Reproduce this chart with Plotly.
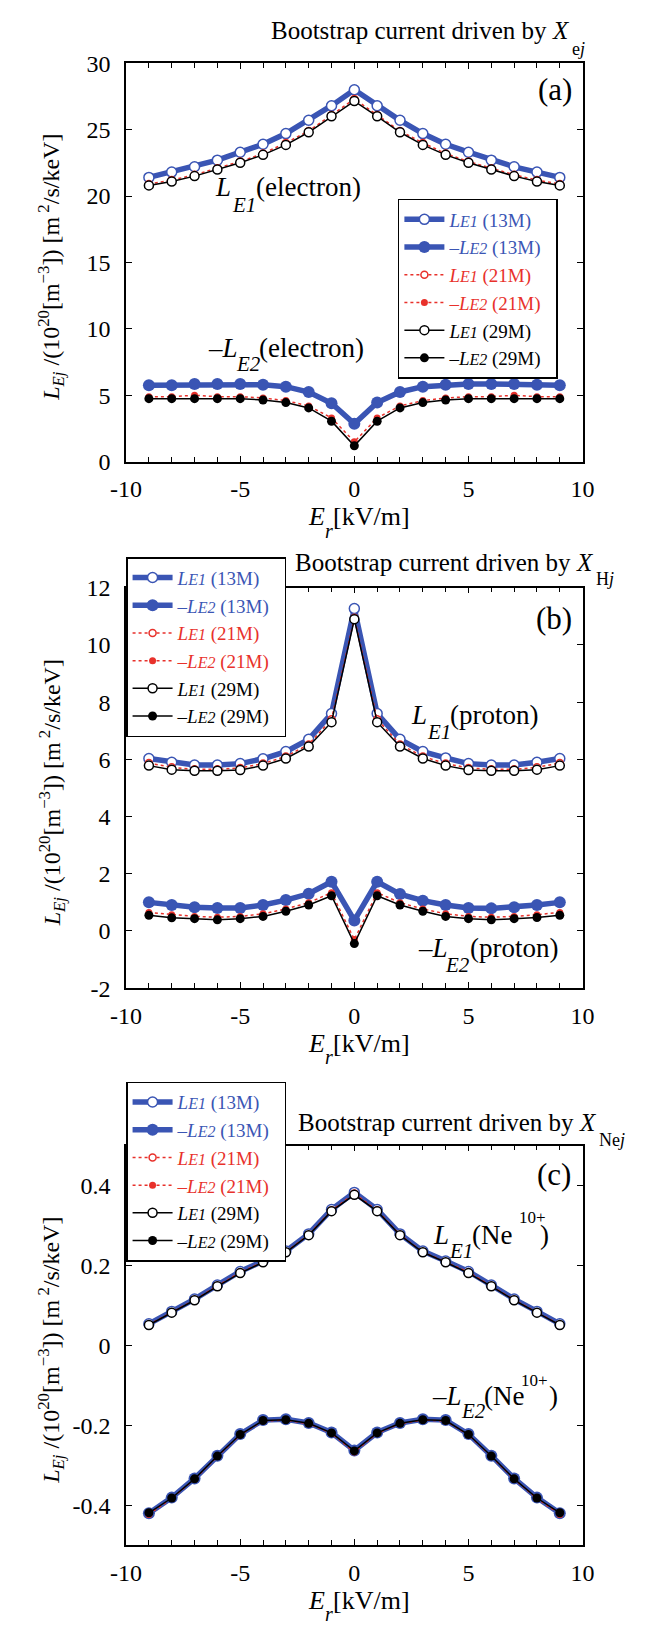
import plotly.graph_objects as go

W, H = 653, 1630
FONT = "Liberation Serif, Times New Roman, Tinos, DejaVu Serif, serif"
BLUE = "#3a55b4"
RED = "#e8312b"
BLACK = "#000000"

# ---------------- data ----------------
er = [-9, -8, -7, -6, -5, -4, -3, -2, -1, 0, 1, 2, 3, 4, 5, 6, 7, 8, 9]

# panel (a): electron
a_LE1_13M = [21.4, 21.8, 22.2, 22.7, 23.3, 23.9, 24.7, 25.7, 26.8, 28.0, 26.8, 25.7, 24.7, 23.9, 23.3, 22.7, 22.2, 21.8, 21.4]
a_LE1_21M = [20.9, 21.2, 21.6, 22.1, 22.6, 23.2, 24.0, 24.9, 26.1, 27.3, 26.1, 24.9, 24.0, 23.2, 22.6, 22.1, 21.6, 21.2, 20.9]
a_LE1_29M = [20.8, 21.1, 21.5, 22.0, 22.5, 23.1, 23.85, 24.8, 26.0, 27.15, 26.0, 24.8, 23.85, 23.1, 22.5, 22.0, 21.5, 21.1, 20.8]
a_mLE2_13M = [5.75, 5.75, 5.85, 5.85, 5.85, 5.8, 5.65, 5.25, 4.4, 2.85, 4.45, 5.25, 5.65, 5.8, 5.85, 5.85, 5.85, 5.8, 5.75]
a_mLE2_21M = [4.9, 4.9, 5.0, 4.9, 4.9, 4.8, 4.6, 4.2, 3.3, 1.5, 3.3, 4.2, 4.6, 4.8, 4.9, 4.9, 5.0, 4.9, 4.9]
a_mLE2_29M = [4.75, 4.75, 4.75, 4.75, 4.75, 4.65, 4.45, 4.05, 3.05, 1.2, 3.05, 4.05, 4.45, 4.65, 4.75, 4.75, 4.75, 4.75, 4.75]

# panel (b): proton
b_LE1_13M = [6.03, 5.9, 5.8, 5.8, 5.85, 6.02, 6.27, 6.7, 7.6, 11.27, 7.6, 6.7, 6.27, 6.05, 5.85, 5.8, 5.8, 5.9, 6.03]
b_LE1_21M = [5.87, 5.72, 5.65, 5.65, 5.7, 5.85, 6.1, 6.52, 7.4, 10.95, 7.4, 6.52, 6.1, 5.85, 5.7, 5.65, 5.65, 5.72, 5.87]
b_LE1_29M = [5.78, 5.64, 5.6, 5.6, 5.63, 5.78, 6.03, 6.45, 7.3, 10.9, 7.3, 6.45, 6.03, 5.78, 5.63, 5.6, 5.6, 5.64, 5.78]
b_mLE2_13M = [1.0, 0.91, 0.83, 0.8, 0.8, 0.91, 1.08, 1.3, 1.72, 0.37, 1.72, 1.29, 1.06, 0.91, 0.8, 0.79, 0.83, 0.91, 1.0]
b_mLE2_21M = [0.65, 0.57, 0.51, 0.48, 0.51, 0.6, 0.77, 0.99, 1.34, -0.3, 1.34, 0.99, 0.77, 0.6, 0.51, 0.48, 0.51, 0.57, 0.65]
b_mLE2_29M = [0.55, 0.46, 0.43, 0.39, 0.43, 0.51, 0.69, 0.91, 1.23, -0.44, 1.23, 0.91, 0.69, 0.51, 0.43, 0.39, 0.43, 0.47, 0.55]

# panel (c): Ne10+
c_LE1_13M = [0.054, 0.085, 0.116, 0.151, 0.185, 0.211, 0.236, 0.279, 0.340, 0.383, 0.340, 0.279, 0.236, 0.211, 0.185, 0.151, 0.116, 0.085, 0.054]
c_LE1_21M = [0.052, 0.083, 0.114, 0.149, 0.183, 0.209, 0.234, 0.277, 0.338, 0.380, 0.338, 0.277, 0.234, 0.209, 0.183, 0.149, 0.114, 0.083, 0.052]
c_LE1_29M = [0.051, 0.082, 0.113, 0.148, 0.181, 0.208, 0.233, 0.276, 0.336, 0.377, 0.336, 0.276, 0.233, 0.208, 0.181, 0.148, 0.113, 0.082, 0.051]
c_mLE2_13M = [-0.420, -0.381, -0.333, -0.276, -0.222, -0.187, -0.185, -0.194, -0.218, -0.263, -0.218, -0.194, -0.185, -0.187, -0.222, -0.276, -0.333, -0.381, -0.420]
c_mLE2_21M = [-0.423, -0.383, -0.335, -0.278, -0.224, -0.189, -0.187, -0.196, -0.220, -0.267, -0.220, -0.196, -0.187, -0.189, -0.224, -0.278, -0.335, -0.383, -0.423]
c_mLE2_29M = [-0.419, -0.382, -0.334, -0.277, -0.223, -0.188, -0.186, -0.195, -0.219, -0.264, -0.219, -0.195, -0.186, -0.188, -0.223, -0.277, -0.334, -0.382, -0.419]

# tick labels
x_tickvals = [-10, -5, 0, 5, 10]
x_ticktext = ["-10", "-5", "0", "5", "10"]
ya_tickvals = [0, 5, 10, 15, 20, 25, 30]
ya_ticktext = ["0", "5", "10", "15", "20", "25", "30"]
yb_tickvals = [-2, 0, 2, 4, 6, 8, 10, 12]
yb_ticktext = ["-2", "0", "2", "4", "6", "8", "10", "12"]
yc_tickvals = [-0.4, -0.2, 0, 0.2, 0.4]
yc_ticktext = ["-0.4", "-0.2", "0", "0.2", "0.4"]

panel_titles = ["e<i>j</i>", "H<i>j</i>", "Ne<i>j</i>"]
panel_tags = ["(a)", "(b)", "(c)"]
species = ["(electron)", "(proton)", "(Ne"]

# ---------------- figure ----------------
def legname(color, sign, e, case):
    return (f"<span style='color:{color}'>{sign}<i>L</i><span style='font-size:16px'><i>{e}</i></span>"
            f"<span style='font-size:19px'> ({case})\u00a0\u00a0</span></span>")

series_style = [
    # (color, case, line width, dash, open size, filled size)
    (BLUE, "13M", 5.5, "solid", 10, 12),
    (RED, "21M", 1.5, "dot", 7, 7),
    (BLACK, "29M", 1.5, "solid", 9, 9),
]

panels = [
    ([a_LE1_13M, a_LE1_21M, a_LE1_29M], [a_mLE2_13M, a_mLE2_21M, a_mLE2_29M]),
    ([b_LE1_13M, b_LE1_21M, b_LE1_29M], [b_mLE2_13M, b_mLE2_21M, b_mLE2_29M]),
    ([c_LE1_13M, c_LE1_21M, c_LE1_29M], [c_mLE2_13M, c_mLE2_21M, c_mLE2_29M]),
]

fig = go.Figure()
for p, (le1s, le2s) in enumerate(panels):
    xa = "x" if p == 0 else f"x{p+1}"
    ya = "y" if p == 0 else f"y{p+1}"
    lg = "legend" if p == 0 else f"legend{p+1}"
    for (color, case, lw, dash, so, sf), le1, le2 in zip(series_style, le1s, le2s):
        fig.add_trace(go.Scatter(
            x=er, y=le1, xaxis=xa, yaxis=ya, legend=lg, mode="lines+markers",
            name=legname(color, "", "E1", case),
            line=dict(color=color, width=lw, dash=dash),
            marker=dict(symbol="circle", size=so, color="white", line=dict(color=color, width=1.5)),
        ))
        fig.add_trace(go.Scatter(
            x=er, y=le2, xaxis=xa, yaxis=ya, legend=lg, mode="lines+markers",
            name=legname(color, "\u2013", "E2", case),
            line=dict(color=color, width=lw, dash=dash),
            marker=dict(symbol="circle", size=sf, color=color, line=dict(color=color, width=0)),
        ))

# plot area geometry (pixels)
x_left, x_right = 115, 592
frames = [(51, 456), (584, 991), (1151, 1557)]
yranges = [[0, 30], [-2, 12], [-0.5, 0.5]]
yticks = [(ya_tickvals, ya_ticktext), (yb_tickvals, yb_ticktext), (yc_tickvals, yc_ticktext)]

axis_common = dict(showgrid=False, zeroline=False, showline=True, linecolor="black", linewidth=1.5,
                   mirror="ticks", ticks="inside", ticklen=6, tickwidth=1.2, tickcolor="black",
                   tickfont=dict(family=FONT, size=24, color="black"), ticklabelstandoff=5)

layout = dict(width=W, height=H, autosize=False, margin=dict(l=0, r=0, t=0, b=0),
              paper_bgcolor="white", plot_bgcolor="white",
              font=dict(family=FONT, color="black"))

for p in range(3):
    top, bot = frames[p]
    xk = "xaxis" if p == 0 else f"xaxis{p+1}"
    yk = "yaxis" if p == 0 else f"yaxis{p+1}"
    ya = "y" if p == 0 else f"y{p+1}"
    xa = "x" if p == 0 else f"x{p+1}"
    layout[xk] = dict(axis_common, domain=[x_left / W, x_right / W], range=[-10, 10], anchor=ya,
                      tickmode="array", tickvals=x_tickvals, ticktext=x_ticktext,
                      minor=dict(tickmode="linear", tick0=0, dtick=1, ticks="inside", ticklen=5,
                                 tickcolor="black", tickwidth=1.2))
    layout[yk] = dict(axis_common, domain=[1 - bot / H, 1 - top / H], range=yranges[p], anchor=xa,
                      tickmode="array", tickvals=yticks[p][0], ticktext=yticks[p][1],
                      ticklabelstandoff=9)

legend_pos = [(399, 189), (115, 553), (115, 1086)]
for p, (lx, ly) in enumerate(legend_pos):
    lk = "legend" if p == 0 else f"legend{p+1}"
    layout[lk] = dict(x=lx / W, y=1 - ly / H, xanchor="left", yanchor="top", bgcolor="white",
                      bordercolor="black", borderwidth=1.5, tracegroupgap=0, itemwidth=40,
                      font=dict(family=FONT, size=19, color="black"))

ann = []
def txt(s, xp, yp, size, xanchor="left", angle=0):
    ann.append(dict(text=s, x=xp / W, y=1 - yp / H, xref="paper", yref="paper", xanchor=xanchor,
                    yanchor="middle", showarrow=False, textangle=angle, borderpad=0,
                    font=dict(family=FONT, size=size, color="black")))

# panel titles
title_pos = [(580, 18, 37), (605, 558, 575), (608, 1127, 1145)]
for p, (tx, ty, sy) in enumerate(title_pos):
    txt("Bootstrap current driven by <i>X</i>", tx, ty, 25, xanchor="right")
    txt(panel_titles[p], tx, sy, 18)

# panel tags
tag_pos = [(582, 78), (582, 615), (581, 1180)]
for p, (tx, ty) in enumerate(tag_pos):
    txt(panel_tags[p], tx, ty, 31, xanchor="right")

# axis titles
for p, (top, bot) in enumerate(frames):
    yc = bot + 56
    txt("<i>E</i>", 304, yc, 26)
    txt("<i>r</i>", 322, yc + 14, 20)
    txt("[kV/m]", 330, yc, 26)
    txt("<i>L</i><sub><i>Ej</i></sub> /(10<sup>20</sup>[m<sup>\u22123</sup>]) [m<sup> 2</sup>/s/keV]",
        37, (top + bot) / 2 + 5, 24, xanchor="center", angle=-90)

# curve labels
txt("<i>L</i>", 207, 177, 27); txt("<i>E1</i>", 225, 195, 21); txt(species[0], 250, 177, 27)
txt("\u2013<i>L</i>", 200, 340, 27); txt("<i>E2</i>", 229, 357, 21); txt(species[0], 253, 340, 27)
txt("<i>L</i>", 412, 713, 27); txt("<i>E1</i>", 428, 731, 21); txt(species[1], 452, 713, 27)
txt("\u2013<i>L</i>", 419, 950, 27); txt("<i>E2</i>", 447, 967, 21); txt(species[1], 473, 950, 27)
txt("<i>L</i>", 435, 1242, 27); txt("<i>E1</i>", 451, 1258, 21); txt(species[2], 475, 1242, 27)
txt("10+", 524, 1224, 17); txt(")", 546, 1242, 27)
txt("\u2013<i>L</i>", 434, 1405, 27); txt("<i>E2</i>", 464, 1421, 21); txt(species[2], 488, 1405, 27)
txt("10+", 527, 1390, 17); txt(")", 556, 1405, 27)

layout["annotations"] = ann
fig.update_layout(**layout)
fig.write_html("out.html", config={"displayModeBar": False},
               post_script="document.body.style.margin='0';document.body.style.padding='0';")
